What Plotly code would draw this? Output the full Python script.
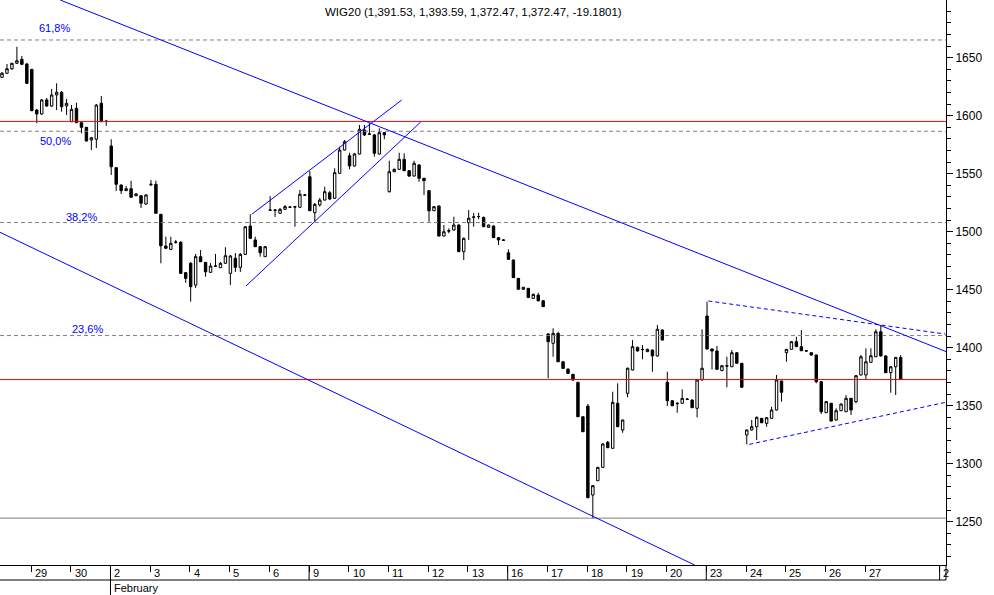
import plotly.graph_objects as go

# ---------------- data ----------------
title_text = "WIG20 (1,391.53, 1,393.59, 1,372.47, 1,372.47, -19.1801)"

opens = [1633.0, 1636.5, 1640.4, 1645.1, 1648.5, 1644.5, 1639.9, 1604.8, 1601.4, 1613.5,
         1608.3, 1617.8, 1620.1, 1608.3, 1594.7, 1606.3, 1593.9, 1589.9, 1579.0, 1579.6,
         1610.6, 1595.3, 1573.8, 1555.1, 1540.2, 1535.3, 1537.0, 1530.9, 1530.9, 1523.8,
         1540.3, 1540.8, 1514.9, 1487.6, 1484.7, 1491.0, 1490.8, 1464.6, 1472.7, 1453.9,
         1478.4, 1473.5, 1464.9, 1470.1, 1468.9, 1472.7, 1464.0, 1477.0, 1469.2, 1480.4,
         1504.8, 1492.8, 1487.0, 1478.4, 1518.4, 1518.6, 1515.8, 1519.2, 1521.0, 1521.5,
         1521.0, 1531.3, 1547.3, 1516.3, 1523.0, 1527.2, 1533.5, 1528.7, 1550.3, 1570.3,
         1565.4, 1556.6, 1566.9, 1587.6, 1583.9, 1583.3, 1566.9, 1585.3, 1534.4, 1551.6,
         1553.7, 1562.3, 1552.5, 1547.9, 1557.4, 1546.0, 1535.3, 1518.0, 1522.1, 1496.2,
         1500.8, 1501.4, 1505.7, 1482.7, 1507.7, 1512.3, 1512.9, 1512.3, 1503.7, 1504.8,
         1494.8, 1492.8, 1481.8, 1475.5, 1459.7, 1450.3, 1451.1, 1442.5, 1445.3, 1440.4,
         1411.7, 1403.7, 1412.3, 1387.8, 1381.5, 1377.0, 1370.1, 1340.4, 1349.6, 1272.9,
         1285.2, 1296.8, 1318.4, 1313.2, 1352.0, 1329.0, 1360.6, 1380.7, 1400.2, 1398.5,
         1396.5, 1397.9, 1392.8, 1415.2, 1370.1, 1354.2, 1352.0, 1352.0, 1355.7, 1354.8,
         1347.7, 1372.1, 1427.2, 1398.8, 1397.1, 1380.1, 1384.4, 1383.5, 1395.6, 1386.5,
         1324.7, 1329.0, 1331.8, 1339.0, 1334.7, 1339.0, 1346.2, 1371.2, 1395.6, 1398.5,
         1405.1, 1400.8, 1397.3, 1395.6, 1393.6, 1370.6, 1343.9, 1352.0, 1337.6, 1345.6,
         1344.7, 1356.3, 1353.4, 1376.4, 1376.4, 1387.3, 1392.1, 1413.7, 1392.8, 1378.4,
         1383.5, 1391.53]

highs = [1637.6, 1644.5, 1645.4, 1659.4, 1651.4, 1645.4, 1640.2, 1605.7, 1614.3, 1615.2,
         1622.9, 1627.8, 1621.2, 1614.3, 1609.1, 1611.1, 1594.5, 1590.2, 1581.6, 1610.0,
         1616.9, 1596.2, 1579.6, 1555.7, 1540.6, 1539.3, 1543.9, 1533.3, 1531.6, 1532.4,
         1544.5, 1543.9, 1515.2, 1495.6, 1495.6, 1492.8, 1491.9, 1465.2, 1473.8, 1480.7,
         1484.1, 1473.8, 1472.9, 1480.7, 1473.8, 1486.5, 1479.8, 1481.5, 1481.5, 1504.8,
         1514.9, 1495.6, 1487.6, 1487.6, 1530.6, 1519.5, 1520.3, 1522.9, 1522.1, 1522.1,
         1535.9, 1532.4, 1552.2, 1524.7, 1529.0, 1538.7, 1535.0, 1554.6, 1573.2, 1579.0,
         1568.0, 1567.8, 1591.9, 1591.9, 1593.4, 1584.1, 1589.0, 1585.9, 1561.1, 1554.4,
         1568.0, 1567.5, 1553.1, 1561.1, 1558.3, 1546.2, 1535.9, 1522.1, 1522.5, 1505.7,
         1502.8, 1512.8, 1506.1, 1494.9, 1518.6, 1516.0, 1516.3, 1512.9, 1506.1, 1505.3,
         1495.4, 1493.6, 1484.7, 1475.9, 1460.0, 1452.2, 1451.4, 1446.6, 1447.3, 1441.0,
         1412.6, 1416.6, 1413.7, 1388.4, 1382.0, 1377.2, 1370.3, 1340.6, 1351.4, 1281.5,
         1297.1, 1317.7, 1319.5, 1362.0, 1369.2, 1338.0, 1382.8, 1406.5, 1400.9, 1402.2,
         1399.2, 1398.4, 1419.5, 1415.6, 1379.2, 1354.8, 1353.1, 1364.0, 1356.6, 1355.3,
         1372.5, 1415.8, 1439.6, 1399.2, 1401.4, 1385.0, 1392.1, 1397.9, 1396.2, 1386.7,
         1329.4, 1337.6, 1340.6, 1339.3, 1339.7, 1349.0, 1376.4, 1371.6, 1398.8, 1405.7,
         1409.4, 1415.2, 1397.5, 1395.8, 1394.0, 1371.2, 1354.0, 1352.2, 1347.7, 1351.8,
         1359.1, 1356.6, 1376.4, 1393.6, 1399.4, 1399.4, 1415.8, 1418.9, 1393.2, 1384.1,
         1391.9, 1393.59]

lows = [1632.4, 1635.9, 1639.3, 1644.5, 1643.6, 1627.2, 1604.0, 1593.4, 1600.5, 1607.4,
        1607.4, 1604.8, 1603.4, 1600.5, 1594.5, 1593.6, 1584.7, 1577.7, 1570.3, 1572.1,
        1594.5, 1591.3, 1548.8, 1535.0, 1532.4, 1535.0, 1529.0, 1530.7, 1520.3, 1522.9,
        1539.3, 1515.2, 1472.7, 1485.0, 1484.1, 1489.7, 1463.4, 1456.0, 1439.6, 1451.4,
        1473.8, 1461.1, 1464.3, 1469.5, 1468.6, 1472.1, 1454.0, 1465.2, 1465.2, 1479.8,
        1493.6, 1486.7, 1478.4, 1478.1, 1517.8, 1512.6, 1515.2, 1518.6, 1520.3, 1504.2,
        1520.3, 1530.7, 1517.8, 1508.5, 1521.5, 1526.8, 1527.2, 1528.1, 1549.7, 1569.9,
        1553.7, 1556.1, 1566.5, 1582.4, 1583.3, 1564.6, 1566.5, 1579.6, 1533.7, 1551.4,
        1553.1, 1552.2, 1547.1, 1547.5, 1543.0, 1531.6, 1508.5, 1517.8, 1495.8, 1495.8,
        1498.5, 1500.9, 1482.4, 1475.5, 1492.8, 1504.2, 1510.6, 1504.0, 1503.1, 1494.5,
        1488.5, 1491.9, 1475.5, 1460.0, 1449.7, 1449.7, 1442.7, 1441.9, 1439.7, 1435.0,
        1373.5, 1392.1, 1387.6, 1381.5, 1377.2, 1371.2, 1340.2, 1327.2, 1270.3, 1252.8,
        1285.0, 1296.2, 1313.5, 1313.0, 1331.6, 1326.6, 1357.1, 1380.3, 1396.6, 1389.9,
        1396.2, 1379.2, 1392.3, 1406.1, 1349.6, 1349.6, 1343.9, 1351.6, 1354.8, 1348.0,
        1339.9, 1371.6, 1398.4, 1381.3, 1380.9, 1379.8, 1365.8, 1383.3, 1386.3, 1365.6,
        1316.6, 1328.5, 1320.3, 1335.0, 1331.8, 1338.9, 1345.7, 1353.4, 1387.8, 1398.3,
        1400.5, 1397.1, 1396.6, 1393.2, 1369.2, 1342.8, 1343.6, 1336.3, 1337.1, 1345.3,
        1344.5, 1341.9, 1352.0, 1376.0, 1372.1, 1387.2, 1391.9, 1392.3, 1378.1, 1361.1,
        1359.1, 1372.47]

closes = [1636.5, 1640.4, 1645.1, 1647.3, 1644.2, 1627.8, 1604.2, 1601.4, 1613.5, 1608.3,
          1617.8, 1620.1, 1607.7, 1610.6, 1605.4, 1593.9, 1589.9, 1578.1, 1580.9, 1609.1,
          1594.7, 1594.9, 1555.9, 1540.8, 1535.3, 1537.0, 1529.6, 1532.4, 1524.4, 1531.6,
          1540.8, 1515.8, 1487.8, 1485.6, 1489.9, 1490.8, 1464.0, 1459.7, 1452.5, 1478.4,
          1474.0, 1465.4, 1470.3, 1470.3, 1472.7, 1479.2, 1479.0, 1469.2, 1480.4, 1504.2,
          1494.2, 1487.0, 1481.8, 1487.0, 1518.6, 1518.4, 1519.2, 1521.5, 1521.2, 1521.2,
          1532.2, 1531.6, 1518.0, 1523.5, 1527.2, 1534.4, 1528.1, 1550.8, 1570.3, 1577.5,
          1556.6, 1566.9, 1588.2, 1583.3, 1584.1, 1567.5, 1585.3, 1583.5, 1551.6, 1553.7,
          1562.3, 1552.5, 1547.9, 1558.9, 1546.0, 1543.9, 1518.0, 1521.5, 1496.2, 1499.9,
          1500.5, 1505.7, 1482.7, 1494.2, 1511.5, 1512.6, 1513.0, 1504.2, 1505.7, 1494.8,
          1492.8, 1492.5, 1476.1, 1460.3, 1450.3, 1452.0, 1443.3, 1445.9, 1440.4, 1435.3,
          1405.1, 1412.3, 1387.8, 1382.1, 1377.8, 1372.1, 1340.4, 1327.5, 1270.6, 1281.0,
          1296.8, 1316.9, 1313.7, 1352.8, 1331.8, 1337.6, 1382.2, 1400.8, 1397.1, 1398.3,
          1398.5, 1392.8, 1415.8, 1406.5, 1354.2, 1349.9, 1351.7, 1356.3, 1355.4, 1348.2,
          1372.1, 1382.2, 1398.8, 1397.1, 1381.3, 1384.4, 1384.1, 1395.6, 1386.5, 1365.8,
          1329.0, 1331.8, 1339.9, 1335.2, 1339.6, 1346.2, 1372.1, 1361.5, 1398.5, 1405.1,
          1400.8, 1397.3, 1397.1, 1393.6, 1370.6, 1344.7, 1353.4, 1336.7, 1345.6, 1351.4,
          1356.3, 1346.2, 1375.8, 1392.1, 1387.8, 1393.0, 1413.7, 1392.8, 1378.4, 1383.5,
          1391.6, 1372.47]

# trading days shown on the x axis (8 bars per day; first day is partial)
day_labels = ["8", "29", "30", "2", "3", "4", "5", "6", "9", "10", "11", "12", "13",
              "16", "17", "18", "19", "20", "23", "24", "25", "26", "27", "2"]
day_start_bar = [-2, 6, 14, 22, 30, 38, 46, 54, 62, 70, 78, 86, 94, 102, 110, 118,
                 126, 134, 142, 150, 158, 166, 174, 189]
week_start_labels = {"2", "9", "16", "23"}
month_label = "February"

# Fibonacci retracement (low 1253, high 1920)
fib_labels = ["61,8%", "50,0%", "38,2%", "23,6%"]
fib_levels = [1665.2, 1586.5, 1507.8, 1410.4]
fib_label_bar = [7.0, 7.2, 12.5, 13.7]
fib_label_shift = [12, -10, 6, 7]
support_level = 1253.0
resistance_level = 1595.0
last_close = 1372.47

# trend lines: (bar0, value0, bar1, value1)
trend_solid = [
    (11.72, 1699.66, 190.13, 1396.6),   # falling channel, upper
    (-0.40, 1499.4, 139.5, 1212.6),      # falling channel, lower
    (50.29, 1514.9, 80.5, 1613.4),       # rising channel, upper
    (49.14, 1453.1, 84.33, 1594.5),      # rising channel, lower
]
trend_dashed = [
    (142.26, 1440.2, 190.0, 1411.7),     # triangle upper
    (150.5, 1316.6, 190.0, 1352.8),      # triangle lower
]

# ---------------- figure ----------------
XMIN, XMAX = -0.403, 190.13
YMIN, YMAX = 1212.6, 1699.66
BLUE = "#0000FF"
FONT = "Liberation Sans, Arial, sans-serif"

x = list(range(len(opens)))

fig = go.Figure()
fig.add_trace(go.Candlestick(
    x=x, open=opens, high=highs, low=lows, close=closes,
    increasing=dict(line=dict(color="black", width=1), fillcolor="white"),
    decreasing=dict(line=dict(color="black", width=1), fillcolor="black"),
    whiskerwidth=0, showlegend=False, hoverinfo="skip",
))

shapes = []
for lv in fib_levels:
    shapes.append(dict(type="line", xref="paper", x0=0, x1=1, yref="y", y0=lv, y1=lv,
                       line=dict(color="#808080", width=1, dash="4px,3px")))
shapes.append(dict(type="line", xref="paper", x0=0, x1=1, yref="y",
                   y0=support_level, y1=support_level, line=dict(color="#808080", width=1)))
for lv in (resistance_level, last_close):
    shapes.append(dict(type="line", xref="paper", x0=0, x1=1, yref="y", y0=lv, y1=lv,
                       line=dict(color="#FF0000", width=1)))
for (a, b, c, d) in trend_solid:
    shapes.append(dict(type="line", xref="x", yref="y", x0=a, y0=b, x1=c, y1=d,
                       line=dict(color=BLUE, width=1)))
for (a, b, c, d) in trend_dashed:
    shapes.append(dict(type="line", xref="x", yref="y", x0=a, y0=b, x1=c, y1=d,
                       line=dict(color=BLUE, width=1, dash="4px,3px")))

# lower border of the date row
shapes.append(dict(type="line", xref="paper", yref="paper", x0=0, x1=1,
                   y0=-15 / 565, y1=-15 / 565, line=dict(color="black", width=1)))
# right axis extends through date row
shapes.append(dict(type="line", xref="paper", yref="paper", x0=1, x1=1,
                   y0=-15 / 565, y1=0, line=dict(color="black", width=1)))

annotations = []
for lab, pos in zip(day_labels, day_start_bar):
    if lab in week_start_labels and pos > 0:
        y_end = -30 / 565 if lab == "2" and pos < 100 else -15 / 565
        shapes.append(dict(type="line", xref="x", yref="paper", x0=pos - 0.15, x1=pos - 0.15,
                           y0=0, y1=y_end, line=dict(color="black", width=1)))
    annotations.append(dict(x=pos, xref="x", y=0, yref="paper", text=lab, showarrow=False,
                            xanchor="left", yanchor="middle", xshift=1, yshift=-8,
                            font=dict(family=FONT, size=11, color="black")))
annotations.append(dict(x=22, xref="x", y=0, yref="paper", text=month_label, showarrow=False,
                        xanchor="left", yanchor="middle", xshift=1, yshift=-23,
                        font=dict(family=FONT, size=11, color="black")))

for lab, lv, bx, sh in zip(fib_labels, fib_levels, fib_label_bar, fib_label_shift):
    annotations.append(dict(x=bx, xref="x", y=lv, yref="y", text=lab, showarrow=False,
                            xanchor="left", yanchor="middle", yshift=sh,
                            font=dict(family=FONT, size=11, color=BLUE)))

annotations.append(dict(x=0.5, xref="paper", y=1, yref="paper", text=title_text,
                        showarrow=False, xanchor="center", yanchor="middle", yshift=-12,
                        font=dict(family=FONT, size=11.5, color="black")))

tick_bars = [p for p in day_start_bar if p > 0]

fig.update_layout(
    width=994, height=595,
    margin=dict(l=0, r=48, t=0, b=30, pad=0),
    paper_bgcolor="white", plot_bgcolor="white",
    boxgap=0.3,
    shapes=shapes, annotations=annotations,
    showlegend=False,
    xaxis=dict(range=[XMIN, XMAX], rangeslider=dict(visible=False), showgrid=False,
               zeroline=False, showline=True, linecolor="black", linewidth=1,
               tickmode="array", tickvals=[p - 0.15 for p in tick_bars], ticks="outside",
               ticklen=6, tickcolor="black", tickwidth=1, showticklabels=False,
               fixedrange=True),
    yaxis=dict(range=[YMIN, YMAX], side="right", showgrid=False, zeroline=False,
               showline=True, linecolor="black", linewidth=1,
               tickmode="linear", tick0=1250, dtick=50, ticks="outside", ticklen=6,
               tickcolor="black", tickwidth=1,
               minor=dict(dtick=10, tick0=1250, ticks="outside", ticklen=4,
                          tickcolor="black", tickwidth=1, showgrid=False),
               tickfont=dict(family=FONT, size=12, color="black"),
               fixedrange=True),
)

fig.write_html("out.html", config={"displayModeBar": False},
               post_script="document.body.style.margin='0px';document.body.style.padding='0px';")
